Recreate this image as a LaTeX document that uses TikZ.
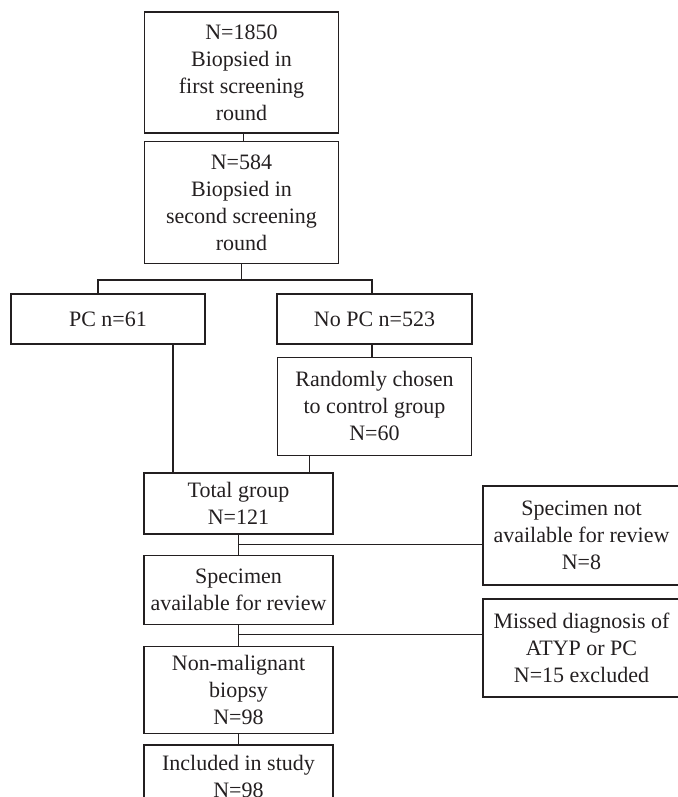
\documentclass[tikz,border=0pt]{standalone}
\usepackage{fontspec}
\setmainfont{Liberation Serif}
\usepackage{tikz}
\usetikzlibrary{positioning,calc}
\definecolor{ink}{HTML}{231F20}
\tikzset{
  flowbox/.style={
    draw=ink,
    line width=1.3pt,
    align=center,
    text=ink,
    font=\fontsize{22}{27}\selectfont,
    inner sep=2pt
  },
  flowline/.style={line width=1.3pt,draw=ink}
}

\begin{document}
\begin{tikzpicture}[x=1pt,y=-1pt]
  \useasboundingbox (0,0) rectangle (677,797);
  % main column
  \node[flowbox, minimum width=194pt, minimum height=121pt] (first) at (241.5,72.5) {N=1850\\Biopsied in\\first screening\\round};
  \node[flowbox, minimum width=194pt, minimum height=122pt, below=7pt of first] (second) {N=584\\Biopsied in\\second screening\\round};
  \node[flowbox, minimum width=194pt, minimum height=50pt] (pc) at (108,319) {PC n=61};
  \node[flowbox, minimum width=195pt, minimum height=50pt] (nopc) at (374.5,319) {No PC n=523};
  \node[flowbox, minimum width=194pt, minimum height=98pt, below=12pt of nopc] (control) {Randomly chosen\\to control group\\N=60};
  \node[flowbox, minimum width=189pt, minimum height=61pt] (total) at (238.5,503.5) {Total group\\N=121};
  \node[flowbox, minimum width=189pt, minimum height=69pt, below=20pt of total] (avail) {Specimen\\available for review};
  \node[flowbox, minimum width=189pt, minimum height=87pt, below=21pt of avail] (nonmal) {Non-malignant\\biopsy\\N=98};
  \node[flowbox, minimum width=189pt, minimum height=64pt, below=10pt of nonmal] (included) {Included in study\\N=98};
  % exclusions
  \node[flowbox, minimum width=197pt, minimum height=99pt] (notavail) at (581.5,535.5) {Specimen not\\available for review\\N=8};
  \node[flowbox, minimum width=197pt, minimum height=98pt] (missed) at (581.5,648) {Missed diagnosis of\\ATYP or PC\\N=15 excluded};

  \draw[flowline] ([xshift=2pt]first.south) -- ([xshift=2pt]second.north);
  \coordinate (split) at ($(second.south)+(0,16)$);
  \draw[flowline] (second.south) -- (split);
  \draw[flowline] ([xshift=-10pt]pc.north) |- (split) -| ([xshift=-2.5pt]nopc.north);
  \draw[flowline] ([xshift=-2.5pt]nopc.south) -- ([xshift=-2.5pt]nopc.south |- control.north);
  \draw[flowline] ([xshift=65pt]pc.south) -- ([xshift=65pt]pc.south |- total.north);
  \draw[flowline] ([xshift=-65pt]control.south) -- ([xshift=-65pt]control.south |- total.north);
  \draw[flowline] (total) -- (avail);
  \coordinate (cut1) at ($(total.south)!0.5!(avail.north)$);
  \draw[flowline] (cut1) -- (cut1 -| notavail.west);
  \draw[flowline] (avail) -- (nonmal);
  \coordinate (cut2) at ($(avail.south)!0.45!(nonmal.north)$);
  \draw[flowline] (cut2) -- (cut2 -| missed.west);
  \draw[flowline] (nonmal) -- (included);
\end{tikzpicture}
\end{document}
